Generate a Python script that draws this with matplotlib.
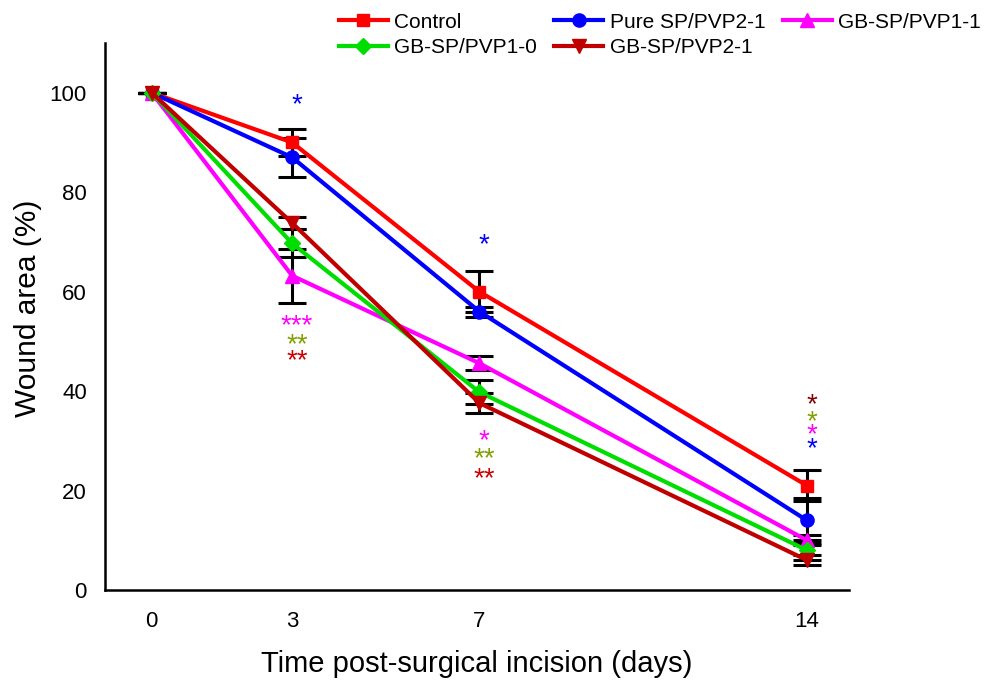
import matplotlib.pyplot as plt

plt.rcParams['font.family'] = ['Liberation Sans', 'DejaVu Sans']

days = [0, 3, 7, 14]

# mean wound area (%) and error for each group
control = [100, 90.0, 60.0, 21.0]
control_err = [0, 2.8, 4.1, 3.1]
pure_sp = [100, 87.0, 56.0, 14.0]
pure_sp_err = [0, 4.0, 1.0, 4.5]
gb_11 = [100, 63.2, 45.6, 10.0]
gb_11_err = [0, 5.4, 1.4, 1.0]
gb_10 = [100, 69.7, 39.8, 8.0]
gb_10_err = [0, 2.8, 2.4, 2.0]
gb_21 = [100, 73.8, 37.6, 6.0]
gb_21_err = [0, 1.3, 2.0, 1.0]

# significance marks: (day, y, text, colour)
stars = [
    (3, 97.4, '*', '#0000FF'),
    (3, 53.1, '***', '#FF00FF'),
    (3, 49.3, '**', '#80A000'),
    (3, 46.1, '**', '#CC0000'),
    (7, 69.3, '*', '#0000FF'),
    (7, 29.9, '*', '#FF00FF'),
    (7, 26.3, '**', '#80A000'),
    (7, 22.3, '**', '#CC0000'),
    (14, 37.2, '*', '#800000'),
    (14, 33.7, '*', '#80A000'),
    (14, 31.2, '*', '#FF00FF'),
    (14, 28.3, '*', '#0000FF'),
]

fig = plt.figure(figsize=(9.84, 6.83), dpi=100)
ax = fig.add_axes([0.1067, 0.1362, 0.7561, 0.8008])

series = [
    ('Control', control, control_err, '#FF0000', 's', 8.5),
    ('Pure SP/PVP2-1', pure_sp, pure_sp_err, '#0000FF', 'o', 9.5),
    ('GB-SP/PVP1-1', gb_11, gb_11_err, '#FF00FF', '^', 9.5),
    ('GB-SP/PVP1-0', gb_10, gb_10_err, '#00DD00', 'D', 8),
    ('GB-SP/PVP2-1', gb_21, gb_21_err, '#C00000', 'v', 9.5),
]

handles = {}
for name, vals, err, col, mk, ms in series:
    ax.errorbar(days, vals, yerr=err, fmt='none', ecolor='black',
                elinewidth=2.2, capsize=10, capthick=2.2, zorder=2)
    h, = ax.plot(days, vals, color=col, marker=mk, markersize=ms,
                 linewidth=3, label=name, zorder=3)
    handles[name] = h

for d, y, txt, col in stars:
    ax.text(d + 0.1, y, txt, color=col, fontsize=20, ha='center', va='center')

ax.set_xlim(-1.0, 14.9)
ax.set_ylim(0, 110)
ax.set_xticks(days)
ax.set_yticks([0, 20, 40, 60, 80, 100])
ax.tick_params(axis='both', length=0, labelsize=16)
ax.tick_params(axis='y', pad=13)
ax.tick_params(axis='x', pad=15)
for s in ['top', 'right']:
    ax.spines[s].set_visible(False)
for s in ['left', 'bottom']:
    ax.spines[s].set_linewidth(1.8)

ax.set_xlabel('Time post-surgical incision (days)', fontsize=21, labelpad=13)
ax.set_ylabel('Wound area (%)', fontsize=21.5)
ax.yaxis.set_label_coords(-0.085, 0.515)

order = ['Control', 'GB-SP/PVP1-0', 'Pure SP/PVP2-1', 'GB-SP/PVP2-1', 'GB-SP/PVP1-1']
fig.legend([handles[n] for n in order], order, ncol=3, frameon=False,
           fontsize=15, loc='upper left', bbox_to_anchor=(0.325, 1.009),
           handlelength=2.35, handletextpad=0.3, columnspacing=0.85,
           labelspacing=0.3)

fig.savefig('out.png', dpi=100)
